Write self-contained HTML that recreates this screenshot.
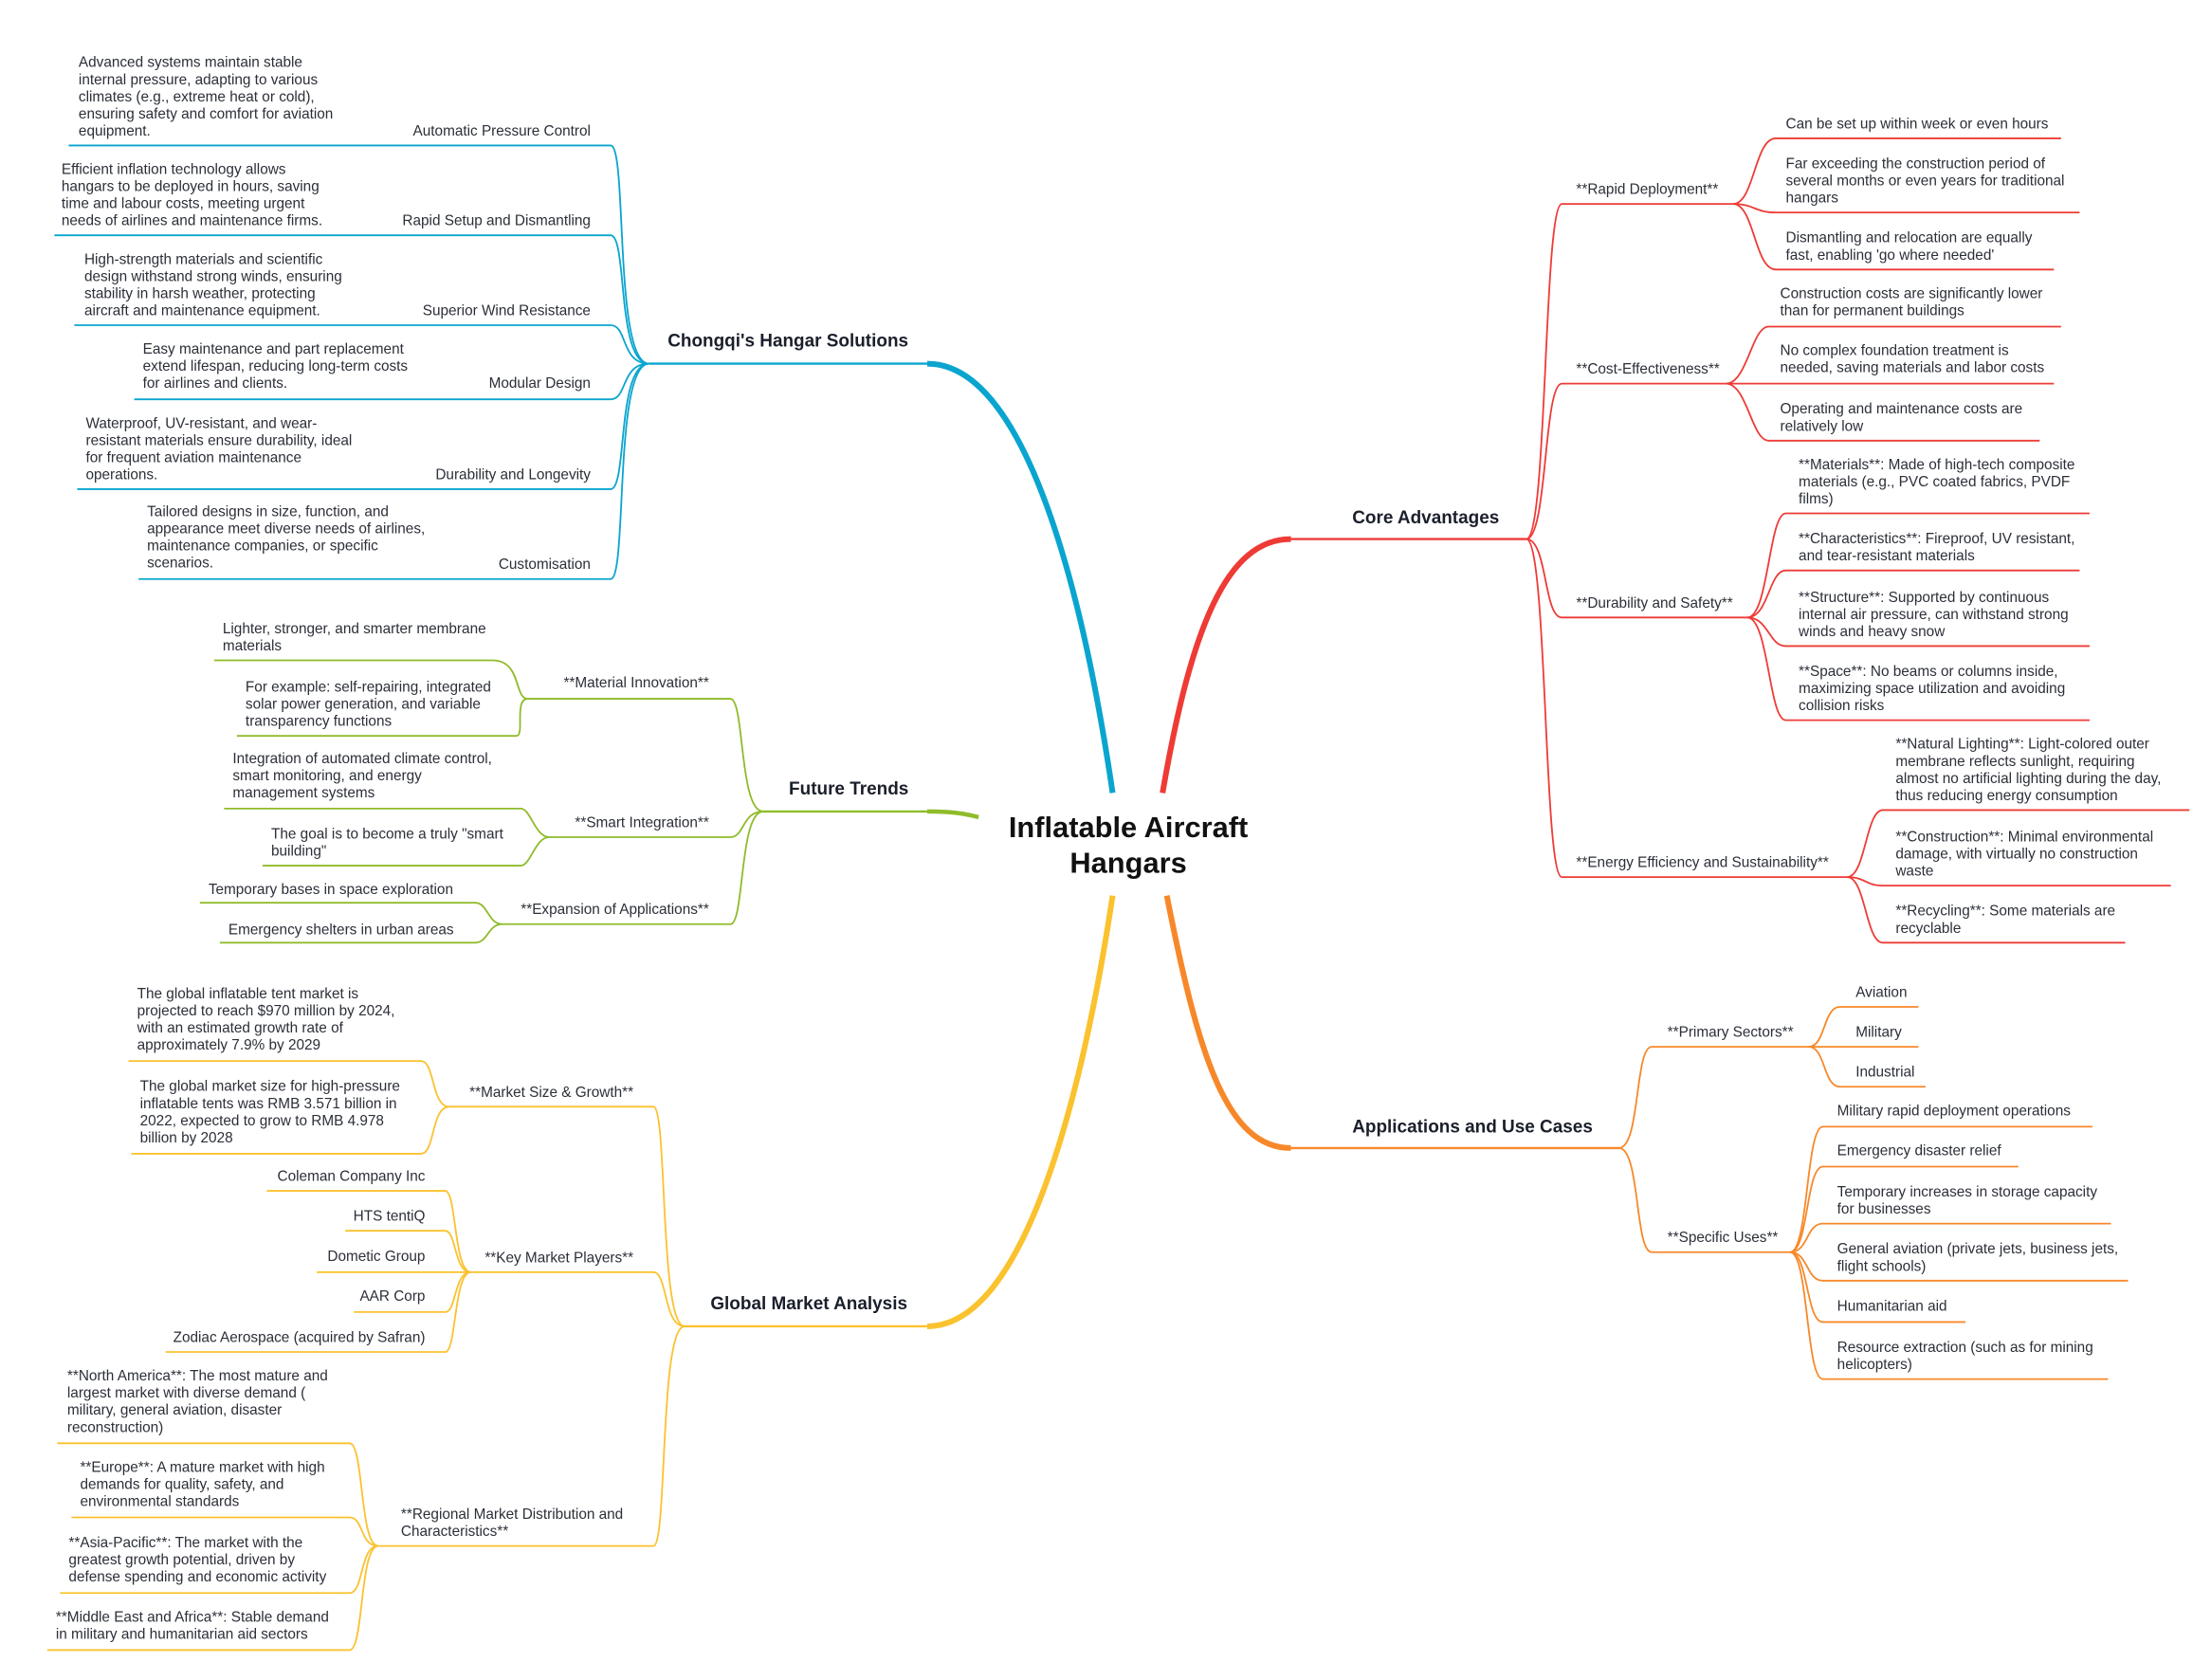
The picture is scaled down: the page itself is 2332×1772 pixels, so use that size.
<!DOCTYPE html>
<html><head><meta charset="utf-8"><style>
html,body{margin:0;padding:0;background:#fff;}
svg{display:block;}
text{font-family:"Liberation Sans",sans-serif;font-size:10.2px;fill:#2b2f38;}
.b{font-weight:bold;font-size:12.6px;fill:#1a1f2b;}
.t{font-weight:bold;font-size:20.5px;fill:#111;}
.e{text-anchor:end;}
path{fill:none;}
.bl{stroke:#0aa5cf;stroke-width:1.2}
.rd{stroke:#ee3b36;stroke-width:1.2}
.gr{stroke:#8fbc2a;stroke-width:1.2}
.yl{stroke:#fbc22f;stroke-width:1.2}
.or{stroke:#f7882a;stroke-width:1.2}
</style></head><body>
<svg width="2332" height="1772" viewBox="0 0 1550 1178" xmlns="http://www.w3.org/2000/svg">
<!-- center -->
<text class="t" x="791" y="587" text-anchor="middle">Inflatable Aircraft</text>
<text class="t" x="791" y="612" text-anchor="middle">Hangars</text>

<!-- main branches -->
<path d="M780 556 C760 420 720 255 650 255" stroke="#0aa5cf" stroke-width="4"/>
<path d="M650 255 L455 255" stroke="#0aa5cf" stroke-width="1.6"/>
<path d="M815 556 C835 440 860 378 905 378" stroke="#ee3b36" stroke-width="4"/>
<path d="M905 378 L1070 378" stroke="#ee3b36" stroke-width="1.6"/>
<path d="M686 573 C675 570 665 569 650 569" stroke="#8fbc2a" stroke-width="3"/>
<path d="M650 569 L535 569" stroke="#8fbc2a" stroke-width="1.6"/>
<path d="M780 628 C760 760 720 930 650 930" stroke="#fbc22f" stroke-width="4"/>
<path d="M650 930 L480 930" stroke="#fbc22f" stroke-width="1.6"/>
<path d="M818 628 C840 740 860 805 905 805" stroke="#f7882a" stroke-width="4"/>
<path d="M905 805 L1135 805" stroke="#f7882a" stroke-width="1.6"/>

<text class="b" x="468" y="243">Chongqi's Hangar Solutions</text>
<text class="b" x="948" y="367">Core Advantages</text>
<text class="b" x="553" y="557">Future Trends</text>
<text class="b" x="498" y="918">Global Market Analysis</text>
<text class="b" x="948" y="794">Applications and Use Cases</text>

<!-- BLUE -->
<g class="bl">
<path d="M455 255 C430 255 440 102 428 102 L48 102"/>
<path d="M455 255 C432 255 440 165 428 165 L38 165"/>
<path d="M455 255 C435 255 440 228 428 228 L52 228"/>
<path d="M455 255 C435 255 440 280 428 280 L94 280"/>
<path d="M455 255 C432 255 440 343 428 343 L54 343"/>
<path d="M455 255 C430 255 440 406 428 406 L97 406"/>
</g>
<text class="e" x="414" y="95">Automatic Pressure Control</text>
<text x="55" y="47">Advanced systems maintain stable</text>
<text x="55" y="59">internal pressure, adapting to various</text>
<text x="55" y="71">climates (e.g., extreme heat or cold),</text>
<text x="55" y="83">ensuring safety and comfort for aviation</text>
<text x="55" y="95">equipment.</text>
<text class="e" x="414" y="158">Rapid Setup and Dismantling</text>
<text x="43" y="122">Efficient inflation technology allows</text>
<text x="43" y="134">hangars to be deployed in hours, saving</text>
<text x="43" y="146">time and labour costs, meeting urgent</text>
<text x="43" y="158">needs of airlines and maintenance firms.</text>
<text class="e" x="414" y="221">Superior Wind Resistance</text>
<text x="59" y="185">High-strength materials and scientific</text>
<text x="59" y="197">design withstand strong winds, ensuring</text>
<text x="59" y="209">stability in harsh weather, protecting</text>
<text x="59" y="221">aircraft and maintenance equipment.</text>
<text class="e" x="414" y="272">Modular Design</text>
<text x="100" y="248">Easy maintenance and part replacement</text>
<text x="100" y="260">extend lifespan, reducing long-term costs</text>
<text x="100" y="272">for airlines and clients.</text>
<text class="e" x="414" y="336">Durability and Longevity</text>
<text x="60" y="300">Waterproof, UV-resistant, and wear-</text>
<text x="60" y="312">resistant materials ensure durability, ideal</text>
<text x="60" y="324">for frequent aviation maintenance</text>
<text x="60" y="336">operations.</text>
<text class="e" x="414" y="399">Customisation</text>
<text x="103" y="362">Tailored designs in size, function, and</text>
<text x="103" y="374">appearance meet diverse needs of airlines,</text>
<text x="103" y="386">maintenance companies, or specific</text>
<text x="103" y="398">scenarios.</text>

<!-- GREEN -->
<g class="gr">
<path d="M535 569 C518 569 522 490 512 490 L370 490"/>
<path d="M535 569 C520 569 522 587 512 587 L385 587"/>
<path d="M535 569 C518 569 522 648 512 648 L352 648"/>
<path d="M370 490 C360 490 366 463 345 463 L150 463"/>
<path d="M370 490 C360 490 368 516 362 516 L166 516"/>
<path d="M385 587 C375 587 372 567 365 567 L157 567"/>
<path d="M385 587 C375 587 372 607 365 607 L184 607"/>
<path d="M352 648 C342 648 342 633 333 633 L140 633"/>
<path d="M352 648 C342 648 342 661 333 661 L154 661"/>
</g>
<text class="e" x="497" y="482">**Material Innovation**</text>
<text x="156" y="444">Lighter, stronger, and smarter membrane</text>
<text x="156" y="456">materials</text>
<text x="172" y="485">For example: self-repairing, integrated</text>
<text x="172" y="497">solar power generation, and variable</text>
<text x="172" y="509">transparency functions</text>
<text class="e" x="497" y="580">**Smart Integration**</text>
<text x="163" y="535">Integration of automated climate control,</text>
<text x="163" y="547">smart monitoring, and energy</text>
<text x="163" y="559">management systems</text>
<text x="190" y="588">The goal is to become a truly "smart</text>
<text x="190" y="600">building"</text>
<text class="e" x="497" y="641">**Expansion of Applications**</text>
<text x="146" y="627">Temporary bases in space exploration</text>
<text x="160" y="655">Emergency shelters in urban areas</text>

<!-- YELLOW -->
<g class="yl">
<path d="M480 930 C462 930 468 776 458 776 L315 776"/>
<path d="M480 930 C465 930 468 892 458 892 L330 892"/>
<path d="M480 930 C462 930 468 1084 458 1084 L265 1084"/>
<path d="M315 776 C302 776 305 744 295 744 L90 744"/>
<path d="M315 776 C302 776 305 809 295 809 L92 809"/>
<path d="M330 892 C318 892 320 835 312 835 L187 835"/>
<path d="M330 892 C318 892 320 863 312 863 L242 863"/>
<path d="M330 892 L222 892"/>
<path d="M330 892 C318 892 320 920 312 920 L248 920"/>
<path d="M330 892 C318 892 320 948 312 948 L116 948"/>
<path d="M265 1084 C252 1084 255 1012 245 1012 L40 1012"/>
<path d="M265 1084 C252 1084 255 1064 245 1064 L50 1064"/>
<path d="M265 1084 C252 1084 255 1117 245 1117 L42 1117"/>
<path d="M265 1084 C252 1084 255 1157 245 1157 L33 1157"/>
</g>
<text class="e" x="444" y="769">**Market Size &amp; Growth**</text>
<text x="96" y="700">The global inflatable tent market is</text>
<text x="96" y="712">projected to reach $970 million by 2024,</text>
<text x="96" y="724">with an estimated growth rate of</text>
<text x="96" y="736">approximately 7.9% by 2029</text>
<text x="98" y="765">The global market size for high-pressure</text>
<text x="98" y="777">inflatable tents was RMB 3.571 billion in</text>
<text x="98" y="789">2022, expected to grow to RMB 4.978</text>
<text x="98" y="801">billion by 2028</text>
<text class="e" x="444" y="885">**Key Market Players**</text>
<text class="e" x="298" y="828">Coleman Company Inc</text>
<text class="e" x="298" y="856">HTS tentiQ</text>
<text class="e" x="298" y="884">Dometic Group</text>
<text class="e" x="298" y="912">AAR Corp</text>
<text class="e" x="298" y="941">Zodiac Aerospace (acquired by Safran)</text>
<text x="281" y="1065">**Regional Market Distribution and</text>
<text x="281" y="1077">Characteristics**</text>
<text x="47" y="968">**North America**: The most mature and</text>
<text x="47" y="980">largest market with diverse demand (</text>
<text x="47" y="992">military, general aviation, disaster</text>
<text x="47" y="1004">reconstruction)</text>
<text x="56" y="1032">**Europe**: A mature market with high</text>
<text x="56" y="1044">demands for quality, safety, and</text>
<text x="56" y="1056">environmental standards</text>
<text x="48" y="1085">**Asia-Pacific**: The market with the</text>
<text x="48" y="1097">greatest growth potential, driven by</text>
<text x="48" y="1109">defense spending and economic activity</text>
<text x="39" y="1137">**Middle East and Africa**: Stable demand</text>
<text x="39" y="1149">in military and humanitarian aid sectors</text>

<!-- RED -->
<g class="rd">
<path d="M1070 378 C1085 378 1082 143 1095 143 L1215 143"/>
<path d="M1070 378 C1085 378 1082 269 1095 269 L1210 269"/>
<path d="M1070 378 C1085 378 1082 433 1095 433 L1225 433"/>
<path d="M1070 378 C1085 378 1082 615 1095 615 L1295 615"/>
<path d="M1215 143 C1230 143 1230 97 1245 97 L1445 97"/>
<path d="M1215 143 C1230 143 1230 149 1245 149 L1458 149"/>
<path d="M1215 143 C1230 143 1230 189 1245 189 L1440 189"/>
<path d="M1210 269 C1225 269 1228 229 1240 229 L1445 229"/>
<path d="M1210 269 L1440 269"/>
<path d="M1210 269 C1225 269 1228 309 1240 309 L1430 309"/>
<path d="M1225 433 C1240 433 1240 360 1252 360 L1465 360"/>
<path d="M1225 433 C1240 433 1240 400 1252 400 L1458 400"/>
<path d="M1225 433 C1240 433 1240 453 1252 453 L1465 453"/>
<path d="M1225 433 C1240 433 1240 505 1252 505 L1465 505"/>
<path d="M1295 615 C1308 615 1308 568 1320 568 L1535 568"/>
<path d="M1295 615 C1308 615 1308 621 1320 621 L1522 621"/>
<path d="M1295 615 C1308 615 1308 661 1320 661 L1490 661"/>
</g>
<text x="1105" y="136">**Rapid Deployment**</text>
<text x="1252" y="90">Can be set up within week or even hours</text>
<text x="1252" y="118">Far exceeding the construction period of</text>
<text x="1252" y="130">several months or even years for traditional</text>
<text x="1252" y="142">hangars</text>
<text x="1252" y="170">Dismantling and relocation are equally</text>
<text x="1252" y="182">fast, enabling 'go where needed'</text>
<text x="1105" y="262">**Cost-Effectiveness**</text>
<text x="1248" y="209">Construction costs are significantly lower</text>
<text x="1248" y="221">than for permanent buildings</text>
<text x="1248" y="249">No complex foundation treatment is</text>
<text x="1248" y="261">needed, saving materials and labor costs</text>
<text x="1248" y="290">Operating and maintenance costs are</text>
<text x="1248" y="302">relatively low</text>
<text x="1105" y="426">**Durability and Safety**</text>
<text x="1261" y="329">**Materials**: Made of high-tech composite</text>
<text x="1261" y="341">materials (e.g., PVC coated fabrics, PVDF</text>
<text x="1261" y="353">films)</text>
<text x="1261" y="381">**Characteristics**: Fireproof, UV resistant,</text>
<text x="1261" y="393">and tear-resistant materials</text>
<text x="1261" y="422">**Structure**: Supported by continuous</text>
<text x="1261" y="434">internal air pressure, can withstand strong</text>
<text x="1261" y="446">winds and heavy snow</text>
<text x="1261" y="474">**Space**: No beams or columns inside,</text>
<text x="1261" y="486">maximizing space utilization and avoiding</text>
<text x="1261" y="498">collision risks</text>
<text x="1105" y="608">**Energy Efficiency and Sustainability**</text>
<text x="1329" y="525">**Natural Lighting**: Light-colored outer</text>
<text x="1329" y="537">membrane reflects sunlight, requiring</text>
<text x="1329" y="549">almost no artificial lighting during the day,</text>
<text x="1329" y="561">thus reducing energy consumption</text>
<text x="1329" y="590">**Construction**: Minimal environmental</text>
<text x="1329" y="602">damage, with virtually no construction</text>
<text x="1329" y="614">waste</text>
<text x="1329" y="642">**Recycling**: Some materials are</text>
<text x="1329" y="654">recyclable</text>

<!-- ORANGE -->
<g class="or">
<path d="M1135 805 C1150 805 1146 734 1158 734 L1268 734"/>
<path d="M1135 805 C1150 805 1146 878 1158 878 L1255 878"/>
<path d="M1268 734 C1280 734 1278 706 1290 706 L1345 706"/>
<path d="M1268 734 L1345 734"/>
<path d="M1268 734 C1280 734 1278 762 1290 762 L1350 762"/>
<path d="M1255 878 C1268 878 1266 790 1278 790 L1467 790"/>
<path d="M1255 878 C1268 878 1266 818 1278 818 L1415 818"/>
<path d="M1255 878 C1268 878 1266 858 1278 858 L1480 858"/>
<path d="M1255 878 C1268 878 1266 898 1278 898 L1492 898"/>
<path d="M1255 878 C1268 878 1266 927 1278 927 L1378 927"/>
<path d="M1255 878 C1268 878 1266 967 1278 967 L1478 967"/>
</g>
<text x="1169" y="727">**Primary Sectors**</text>
<text x="1301" y="699">Aviation</text>
<text x="1301" y="727">Military</text>
<text x="1301" y="755">Industrial</text>
<text x="1169" y="871">**Specific Uses**</text>
<text x="1288" y="782">Military rapid deployment operations</text>
<text x="1288" y="810">Emergency disaster relief</text>
<text x="1288" y="839">Temporary increases in storage capacity</text>
<text x="1288" y="851">for businesses</text>
<text x="1288" y="879">General aviation (private jets, business jets,</text>
<text x="1288" y="891">flight schools)</text>
<text x="1288" y="919">Humanitarian aid</text>
<text x="1288" y="948">Resource extraction (such as for mining</text>
<text x="1288" y="960">helicopters)</text>
</svg>
</body></html>
